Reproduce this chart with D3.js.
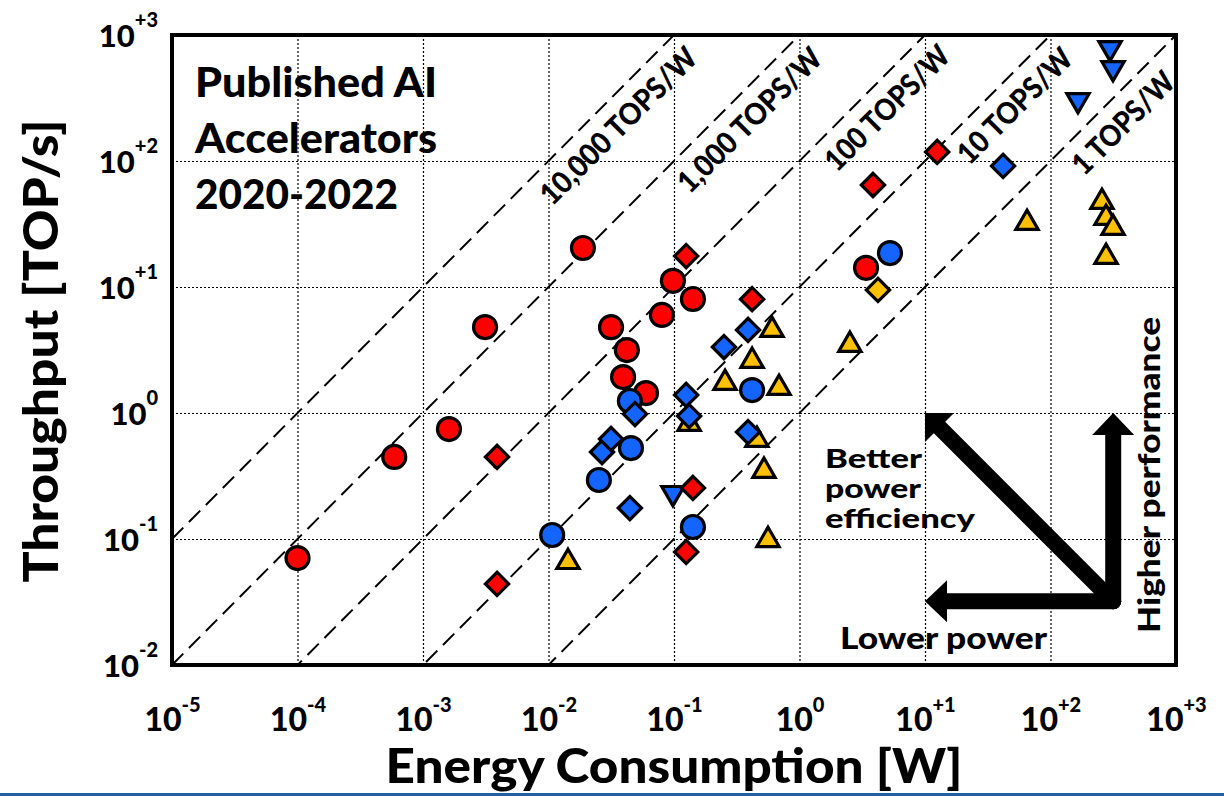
<!DOCTYPE html>
<html>
<head>
<meta charset="utf-8">
<script src="https://cdn.jsdelivr.net/npm/d3@7"></script>
<style>
  body { margin: 0; background: #fff; }
  text { font-family: Lato, "Open Sans", sans-serif; font-weight: 900; fill: #000; }
</style>
</head>
<body>
<svg id="chart" width="1224" height="796"></svg>
<script>
// data: [power W, throughput TOP/s]
const redCircles = [[1.0e-4, 0.0706], [5.9e-4, 0.448], [1.61e-3, 0.746], [3.12e-3, 4.81], [0.0188, 20.4],
  [0.0315, 4.8], [0.0421, 3.16], [0.0393, 1.93], [0.0598, 1.44], [0.0801, 6.0], [0.098, 11.2],
  [0.1415, 8.03], [3.39, 14.2]];
const redDiamonds = [[3.89e-3, 0.044], [3.89e-3, 0.448], [0.125, 17.6], [0.419, 8.0], [0.1415, 0.254],
  [0.125, 0.0789], [3.85, 64.5], [12.5, 118]];
const blueCircles = [[0.0107, 0.1076], [0.0252, 0.294], [0.0454, 0.527], [0.0445, 1.245], [0.1415, 0.1245],
  [0.419, 1.52], [5.26, 18.6]];
const blueDiamonds = [[0.0445, 0.176], [0.0267, 0.49], [0.0315, 0.622], [0.0489, 0.98], [0.125, 1.39],
  [0.132, 0.946], [0.25, 3.34], [0.389, 4.56], [0.389, 0.706], [41.9, 91.3]];
const blueTriangles = [[0.098, 0.232], [165.6, 305], [298, 788], [315, 547]];
const yellowTriangles = [[0.0143, 0.0656], [0.132, 0.818], [0.255, 1.73], [0.419, 2.59], [0.604, 4.56],
  [0.458, 0.611], [0.521, 0.347], [0.561, 0.098], [0.687, 1.58], [2.52, 3.47], [65, 32.2],
  [257, 47.3], [277, 35.3], [315, 29.4], [277, 17.3]];
const yellowDiamonds = [[4.22, 9.47]];

const xTickExp = ["-5", "-4", "-3", "-2", "-1", "0", "+1", "+2", "+3"];
const yTickExp = ["-2", "-1", "0", "+1", "+2", "+3"];

const efficiency = [10000, 1000, 100, 10, 1];
const efficiencyLabels = ["10,000 TOPS/W", "1,000 TOPS/W", "100 TOPS/W", "10 TOPS/W", "1 TOPS/W"];
const efficiencyLabelAt = [0.036, 0.40, 5.0, 52, 380];
const efficiencyLabelLen = [208, 190, 163, 149, 131];

const titleLines = ["Published AI", "Accelerators", "2020-2022"];
const titleLens = [242, 242, 203];

// arrows: corner and tips, in data units
const arrowCorner = [316, 0.032];
const arrowTip = [10, 1];

const svg = d3.select("#chart");
const x = d3.scaleLog().domain([1e-5, 1e3]).range([172, 1176]);
const y = d3.scaleLog().domain([1e-2, 1e3]).range([665, 35]);
const pw = x.range()[1] - x.range()[0], ph = y.range()[0] - y.range()[1];

svg.append("defs").append("clipPath").attr("id", "plot")
  .append("rect").attr("x", 172).attr("y", 35).attr("width", pw).attr("height", ph);

// grid
const gx = svg.append("g").attr("transform", `translate(0,665)`)
  .call(d3.axisBottom(x).tickValues(xTickExp.slice(1, -1).map(e => Math.pow(10, +e))).tickSize(-ph).tickFormat(""));
const gy = svg.append("g").attr("transform", `translate(172,0)`)
  .call(d3.axisLeft(y).tickValues(yTickExp.slice(1, -1).map(e => Math.pow(10, +e))).tickSize(-pw).tickFormat(""));
[gx, gy].forEach(g => {
  g.select(".domain").remove();
  g.selectAll("line").attr("stroke", "#000").attr("stroke-width", 1.2).attr("stroke-dasharray", "2,2");
});

// efficiency lines
const diag = svg.append("g").attr("clip-path", "url(#plot)");
efficiency.forEach(k => {
  diag.append("line")
    .attr("x1", x(1e-5)).attr("y1", y(k * 1e-5))
    .attr("x2", x(1e3)).attr("y2", y(k * 1e3))
    .attr("stroke", "#000").attr("stroke-width", 2).attr("stroke-dasharray", "16,8");
});
efficiency.forEach((k, i) => {
  const e = efficiencyLabelAt[i];
  const cx = x(e), cy = y(k * e) + 35;
  svg.append("text")
    .attr("transform", `translate(${cx},${cy}) rotate(-45)`)
    .attr("text-anchor", "middle").attr("dy", "0.35em")
    .attr("textLength", efficiencyLabelLen[i]).attr("lengthAdjust", "spacingAndGlyphs")
    .style("font-size", "30px")
    .text(efficiencyLabels[i]);
});

// tick labels
const xAxis = svg.append("g").attr("transform", `translate(0,665)`)
  .call(d3.axisBottom(x).tickValues(xTickExp.map(e => Math.pow(10, +e))).tickSize(0).tickFormat(""));
xAxis.select(".domain").remove();
xAxis.selectAll(".tick text").each(function (d, i) {
  const t = d3.select(this).attr("y", 66).attr("dy", null).style("font-size", "32px");
  t.append("tspan").text("10");
  t.append("tspan").attr("dy", -19).style("font-size", "20px").text(xTickExp[i]);
});
const yAxis = svg.append("g").attr("transform", `translate(172,0)`)
  .call(d3.axisLeft(y).tickValues(yTickExp.map(e => Math.pow(10, +e))).tickSize(0).tickFormat(""));
yAxis.select(".domain").remove();
yAxis.selectAll(".tick text").each(function (d, i) {
  const t = d3.select(this).attr("x", -14).attr("y", 11).attr("dy", null).style("font-size", "31px");
  t.append("tspan").text("10");
  t.append("tspan").attr("dy", -20).style("font-size", "20px").text(yTickExp[i]);
});

// frame
svg.append("rect").attr("x", 172).attr("y", 35).attr("width", pw).attr("height", ph)
  .attr("fill", "none").attr("stroke", "#000").attr("stroke-width", 4);

// title
titleLines.forEach((s, i) => {
  svg.append("text").attr("x", 195).attr("y", 97 + i * 56)
    .attr("textLength", titleLens[i]).attr("lengthAdjust", "spacingAndGlyphs")
    .style("font-size", "41px").text(s);
});

// arrows
const arrows = svg.append("g");
const cX = x(arrowCorner[0]), cY = y(arrowCorner[1]);
const tX = x(arrowTip[0]), tY = y(arrowTip[1]);
const shaft = (x1, y1, x2, y2) => arrows.append("line")
  .attr("x1", x1).attr("y1", y1).attr("x2", x2).attr("y2", y2)
  .attr("stroke", "#000").attr("stroke-width", 16).attr("stroke-linecap", "round");
shaft(cX, cY, tX + 20, cY);
shaft(cX, cY, cX, tY + 20);
shaft(cX, cY, tX + 14, tY + 14);
const head = pts => arrows.append("polygon").attr("points", pts.map(p => p.join(",")).join(" ")).attr("fill", "#000");
head([[tX, cY], [tX + 22, cY - 21], [tX + 22, cY + 21]]);
head([[cX, tY], [cX - 21, tY + 22], [cX + 21, tY + 22]]);
head([[tX, tY], [tX + 29, tY], [tX, tY + 29]]);

// annotations
const note = (s, px, py, size, len, rot) => svg.append("text")
  .attr("transform", `translate(${px},${py})` + (rot ? ` rotate(${rot})` : ""))
  .attr("text-anchor", rot ? "middle" : "start")
  .attr("textLength", len).attr("lengthAdjust", "spacingAndGlyphs")
  .style("font-size", size + "px").text(s);
note("Better", 825, 468, 26, 97);
note("power", 825, 498, 26, 96);
note("efficiency", 825, 528, 26, 150);
note("Lower power", 840, 649, 30, 207);
note("Higher performance", 1160, 475, 30, 316, -90);

// axis titles
note("Throughput [TOP/s]", 58, 351, 47, 463, -90);
svg.append("text").attr("x", 674).attr("y", 783).attr("text-anchor", "middle")
  .attr("textLength", 577).attr("lengthAdjust", "spacingAndGlyphs")
  .style("font-size", "47px").text("Energy Consumption [W]");

// markers
const series = [
  { data: yellowTriangles, type: d3.symbolTriangle, size: 215, rot: 0, fill: "#ffc000" },
  { data: redCircles, type: d3.symbolCircle, size: 415, rot: 0, fill: "#ff0000" },
  { data: yellowDiamonds, type: d3.symbolSquare, size: 270, rot: 45, fill: "#ffc000" },
  { data: blueCircles, type: d3.symbolCircle, size: 415, rot: 0, fill: "#1464ff" },
  { data: blueDiamonds, type: d3.symbolSquare, size: 270, rot: 45, fill: "#1464ff" },
  { data: blueTriangles, type: d3.symbolTriangle, size: 215, rot: 180, fill: "#1464ff" },
  { data: redDiamonds, type: d3.symbolSquare, size: 270, rot: 45, fill: "#ff0000" }
];
const marks = svg.append("g");
series.forEach(s => {
  marks.append("g").selectAll("path")
    .data(s.data)
    .join("path")
    .attr("d", d3.symbol().type(s.type).size(s.size))
    .attr("transform", d => `translate(${x(d[0])},${y(d[1])}) rotate(${s.rot})`)
    .attr("fill", s.fill)
    .attr("stroke", "#000")
    .attr("stroke-width", 3.2)
    .attr("stroke-linejoin", "miter");
});

// footer rule
svg.append("rect").attr("x", 0).attr("y", 793).attr("width", 1224).attr("height", 3).attr("fill", "#1f5fa8");
</script>
</body>
</html>
